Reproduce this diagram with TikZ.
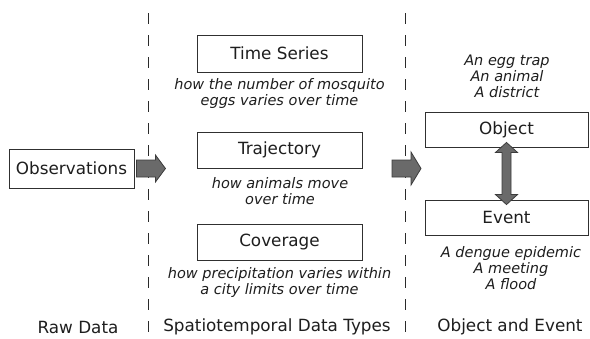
\documentclass[tikz,border=0pt]{standalone}
\usepackage{fontspec}
\setmainfont{DejaVu Sans}
\usetikzlibrary{calc}
\definecolor{boxline}{HTML}{303030}
\definecolor{txt}{HTML}{1E1E1E}
\definecolor{arrfill}{HTML}{6A6A6A}
\definecolor{arrline}{HTML}{3C3C3C}
\definecolor{dashc}{HTML}{2A2A2A}
\tikzset{
  box/.style={draw=boxline, line width=0.9pt, rectangle, inner sep=0pt, text=txt,
    font=\fontsize{16.8}{20}\selectfont},
  caption/.style={align=center, inner sep=0pt, text=txt,
    font=\fontsize{14.5}{16}\selectfont\itshape},
  footer/.style={inner sep=0pt, text=txt, font=\fontsize{16.8}{20}\selectfont},
  sep/.style={draw=dashc, line width=0.9pt, dash pattern=on 11pt off 11pt},
  fatarrow/.style={fill=arrfill, draw=arrline, line width=0.8pt, line join=miter}
}
\begin{document}
\begin{tikzpicture}[x=1pt,y=-1pt]
\useasboundingbox (0,0) rectangle (590,338);
\fill[white] (0,0) rectangle (590,338);

% separators
\draw[sep] (148,13) -- (148,334);
\draw[sep] (405,13) -- (405,334);

% boxes
\node[box, minimum width=125pt, minimum height=39pt] (obs) at (71.5,168.5) {Observations};
\node[box, minimum width=165pt, minimum height=37pt] (ts) at (279.5,53.5) {Time Series};
\node[box, minimum width=165pt, minimum height=36pt] (traj) at (279.5,150) {Trajectory};
\node[box, minimum width=165pt, minimum height=36pt] (cov) at (279.5,242) {Coverage};
\node[box, minimum width=163pt, minimum height=35pt] (obj) at (506.5,129.5) {Object};
\node[box, minimum width=163pt, minimum height=35pt] (evt) at (506.5,217.5) {Event};

% captions
\node[caption] (tscap) at (279.5,93) {how the number of mosquito\\eggs varies over time};
\node[caption] (trajcap) at (280,191.5) {how animals move\\over time};
\node[caption] (covcap) at (279.5,282) {how precipitation varies within\\a city limits over time};
\node[caption] (objcap) at (507,76) {An egg trap\\An animal\\A district};
\node[caption] (evtcap) at (511,268.5) {A dengue epidemic\\A meeting\\A flood};

% footers
\node[footer] (raw) at (78,327) {Raw Data};
\node[footer] (sttypes) at (277,327) {Spatiotemporal Data Types};
\node[footer] (objevt) at (510,327) {Object and Event};

% arrows
\coordinate (a1) at ([xshift=2pt]obs.east);
\fill[fatarrow] (a1) ++(0,-8.5) -- ++(19,0) -- ++(0,-5) -- ++(10,13.5) -- ++(-10,13.5) -- ++(0,-5) -- ++(-19,0) -- cycle;
\coordinate (a2) at (392,168.5);
\fill[fatarrow] (a2) ++(0,-8.5) -- ++(19,0) -- ++(0,-8) -- ++(10,16.5) -- ++(-10,16.5) -- ++(0,-8) -- ++(-19,0) -- cycle;
\coordinate (d1) at ([yshift=5pt]obj.south);
\coordinate (d2) at ([yshift=-5pt]evt.north);
\fill[fatarrow] (d1) -- ++(11,10) -- ++(-6.5,0) -- ($(d2)+(4.5,-10)$) -- ++(6.5,0) -- (d2) -- ++(-11,-10) -- ++(6.5,0) -- ($(d1)+(-4.5,10)$) -- ++(-6.5,0) -- cycle;
\end{tikzpicture}
\end{document}
